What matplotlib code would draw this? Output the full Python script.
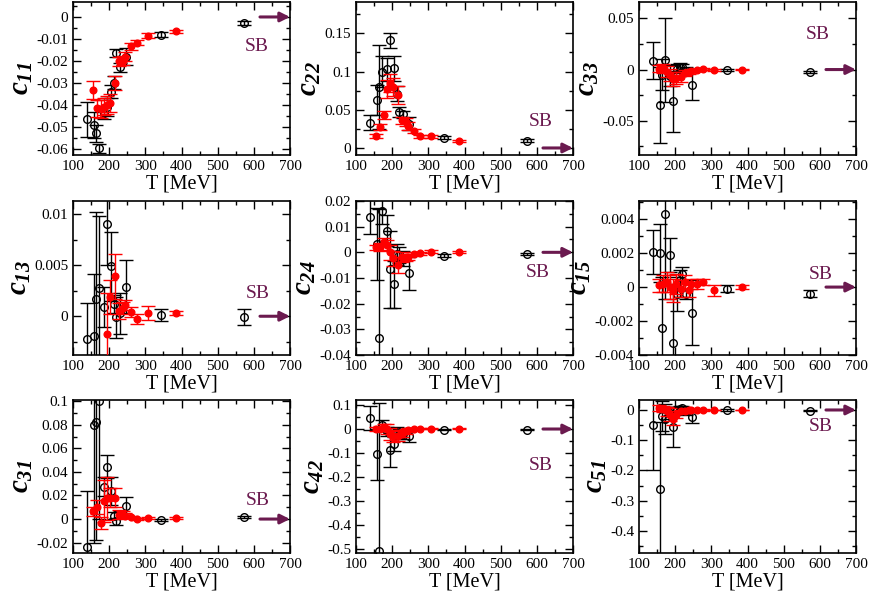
import numpy as np
import matplotlib
matplotlib.use('Agg')
import matplotlib.pyplot as plt
from matplotlib.ticker import MultipleLocator, FuncFormatter

plt.rcParams['font.family'] = ['Liberation Serif', 'DejaVu Serif']
plt.rcParams['mathtext.fontset'] = 'custom'
plt.rcParams['mathtext.it'] = 'Liberation Serif:italic:bold'
plt.rcParams['mathtext.rm'] = 'Liberation Serif:italic:bold'

nan = np.nan

# temperatures [MeV]
black_T = [138, 157, 164, 172, 187, 195, 204, 212, 220, 231, 246, 342, 574]
red_T = [155, 166, 177, 186, 194, 203, 215, 228, 237, 245, 260, 277, 306, 386]

# c11
c11_black = [-0.0464, -0.049, -0.0529, -0.0596, -0.0435, -0.041, -0.034, -0.0298, -0.0164, -0.0228, -0.018, -0.008, -0.0027]
c11_black_err = [0.008, 0.006, 0.004, 0.002, 0.003, 0.004, 0.003, 0.003, 0.002, 0.002, 0.004, 0.001, 0.001]
c11_red = [-0.0331, -0.0415, -0.0419, -0.0407, -0.040, -0.0392, -0.030, -0.0202, -0.0198, -0.018, -0.0134, -0.0116, -0.0085, -0.0065]
c11_red_err = [0.004, 0.004, 0.004, 0.004, 0.004, 0.004, 0.003, 0.002, 0.002, 0.002, 0.0015, 0.0012, 0.001, 0.0006]

# c22
c22_black = [0.0333, 0.0625, 0.080, 0.0997, 0.103, 0.141, 0.104, 0.071, 0.047, 0.044, 0.032, 0.0136, 0.0092]
c22_black_err = [0.01, 0.02, 0.055, 0.02, 0.015, 0.01, 0.016, 0.01, 0.006, 0.005, 0.008, 0.002, 0.002]
c22_red = [0.0157, 0.0275, 0.043, 0.077, 0.085, 0.080, 0.069, 0.036, 0.034, 0.0285, 0.022, 0.0153, 0.0153, 0.0092]
c22_red_err = [0.003, 0.004, 0.005, 0.012, 0.012, 0.012, 0.012, 0.005, 0.005, 0.005, 0.003, 0.002, 0.002, 0.001]

# c33
c33_black = [0.0085, -0.035, -0.005, 0.009, -0.006, -0.031, 0.001, 0.002, 0.0025, -0.001, -0.0147, -0.0007, -0.002]
c33_black_err = [0.018, 0.037, 0.015, 0.041, 0.01, 0.03, 0.004, 0.004, 0.003, 0.003, 0.015, 0.001, 0.001]
c33_red = [0.001, 0.001, -0.002, -0.005, -0.009, -0.008, -0.007, -0.003, -0.002, -0.001, 0.0, 0.0005, -0.0005, 0.0]
c33_red_err = [0.003, 0.004, 0.005, 0.006, 0.007, 0.006, 0.005, 0.003, 0.002, 0.0015, 0.001, 0.001, 0.001, 0.0005]

# c13
c13_black = [-0.0022, -0.0019, 0.0017, 0.0028, 0.0009, 0.009, 0.0049, 0.0012, -0.0001, 0.0003, 0.0029, 0.0001, -0.0001]
c13_black_err = [0.0035, 0.006, 0.0085, 0.007, 0.002, 0.004, 0.0034, 0.0009, 0.002, 0.002, 0.0026, 0.0006, 0.0008]
c13_red = [nan, nan, nan, nan, -0.0017, 0.0019, 0.0039, 0.0005, 0.0008, 0.0011, 0.0004, -0.0003, 0.0003, 0.0003]
c13_red_err = [nan, nan, nan, nan, 0.004, 0.0017, 0.0022, 0.0008, 0.0006, 0.0005, 0.0005, 0.0005, 0.0007, 0.0002]

# c24
c24_black = [0.0138, 0.0031, -0.0332, 0.016, 0.0084, -0.0065, -0.0125, -0.0008, -0.001, -0.0023, -0.0082, -0.0014, -0.0006]
c24_black_err = [0.0066, 0.014, 0.05, 0.005, 0.006, 0.015, 0.009, 0.004, 0.003, 0.003, 0.0065, 0.0006, 0.0005]
c24_red = [0.002, 0.0022, 0.0041, 0.0028, 0.0, -0.0023, -0.0049, -0.0017, -0.002, -0.002, -0.0006, -0.0004, 0.0003, 0.0002]
c24_red_err = [0.001, 0.0015, 0.0015, 0.002, 0.003, 0.003, 0.003, 0.002, 0.0015, 0.001, 0.0008, 0.0005, 0.0005, 0.0003]

# c15
c15_black = [0.00205, 0.002, -0.0024, 0.0043, 0.0019, -0.0033, -0.0004, 0.0002, 0.0008, -0.0004, -0.0015, -0.0001, -0.0004]
c15_black_err = [0.0013, 0.0017, 0.003, 0.005, 0.001, 0.0035, 0.001, 0.0008, 0.0004, 0.0003, 0.0019, 0.0002, 0.0002]
c15_red = [0.0001, 0.0002, 0.0003, 0.0, -0.0002, 0.0002, -0.0001, 0.0003, -0.0002, 0.0002, 0.0002, 0.0003, -0.0002, 0.0]
c15_red_err = [0.0004, 0.0005, 0.0006, 0.0007, 0.0007, 0.0006, 0.0005, 0.0004, 0.0004, 0.0003, 0.0003, 0.0002, 0.0003, 0.0001]

# c31
c31_black = [-0.0236, 0.080, 0.082, 0.100, 0.0276, 0.0445, 0.024, 0.003, -0.002, 0.004, 0.011, -0.001, 0.0015]
c31_black_err = [0.047, 0.1, 0.1, 0.1, 0.008, 0.01, 0.012, 0.003, 0.003, 0.003, 0.008, 0.001, 0.001]
c31_red = [0.0066, 0.010, -0.0034, 0.0153, 0.0176, 0.018, 0.018, 0.0038, 0.0035, 0.003, 0.0015, 0.0, 0.0009, 0.0009]
c31_red_err = [0.004, 0.006, 0.005, 0.018, 0.018, 0.008, 0.008, 0.004, 0.003, 0.002, 0.001, 0.001, 0.0005, 0.0005]

# c42
c42_black = [0.046, -0.106, -0.51, 0.018, -0.01, -0.087, -0.063, -0.01, -0.02, -0.02, -0.028, -0.003, -0.003]
c42_black_err = [0.05, 0.105, 0.62, 0.02, 0.02, 0.07, 0.03, 0.02, 0.02, 0.02, 0.025, 0.003, 0.003]
c42_red = [0.0, 0.002, 0.008, 0.0, -0.02, -0.03, -0.03, -0.02, -0.01, -0.005, 0.0, 0.002, 0.002, 0.002]
c42_red_err = [0.01, 0.012, 0.015, 0.02, 0.025, 0.025, 0.02, 0.015, 0.01, 0.008, 0.005, 0.003, 0.003, 0.002]

# c51
c51_black = [-0.05, -0.26, -0.02, -0.031, -0.01, -0.056, 0.0, 0.003, 0.005, -0.005, -0.022, 0.0, -0.002]
c51_black_err = [0.15, 0.22, 0.05, 0.05, 0.02, 0.065, 0.01, 0.01, 0.008, 0.01, 0.02, 0.002, 0.003]
c51_red = [0.005, 0.003, -0.005, -0.015, -0.03, -0.015, -0.005, -0.002, 0.0, 0.0, 0.0, 0.0, 0.0, 0.0]
c51_red_err = [0.01, 0.01, 0.015, 0.02, 0.02, 0.01, 0.005, 0.004, 0.003, 0.002, 0.002, 0.002, 0.001, 0.001]

labels = ['11', '22', '33', '13', '24', '15', '31', '42', '51']

# position of the "SB" label in each panel
sb_T = [608, 610, 594, 612, 602, 603, 611, 610, 602]
sb_y = [-0.0134, 0.034, 0.0346, 0.0022, -0.0078, 0.00074, 0.0161, -0.152, -0.056]

sb_color = '#6b1a4f'

panels = [
    (c11_black, c11_black_err, c11_red, c11_red_err, (-0.0627, 0.0068), 0.01, 0.005),
    (c22_black, c22_black_err, c22_red, c22_red_err, (-0.0092, 0.191), 0.05, 0.025),
    (c33_black, c33_black_err, c33_red, c33_red_err, (-0.0835, 0.066), 0.05, 0.025),
    (c13_black, c13_black_err, c13_red, c13_red_err, (-0.0038, 0.0113), 0.005, 0.0025),
    (c24_black, c24_black_err, c24_red, c24_red_err, (-0.04, 0.02), 0.01, 0.005),
    (c15_black, c15_black_err, c15_red, c15_red_err, (-0.004, 0.00507), 0.002, 0.001),
    (c31_black, c31_black_err, c31_red, c31_red_err, (-0.0288, 0.101), 0.02, 0.01),
    (c42_black, c42_black_err, c42_red, c42_red_err, (-0.517, 0.121), 0.1, 0.05),
    (c51_black, c51_black_err, c51_red, c51_red_err, (-0.473, 0.033), 0.1, 0.05),
]


def fmt(v, pos):
    if abs(v) < 1e-12:
        return '0'
    return '%g' % v


fig = plt.figure(figsize=(8.72, 6), dpi=100)
W, H = 872.0, 600.0
col_left = [73, 356, 639]
row_top = [2, 201, 400]
row_bottom = [155, 355, 553]

for k, (bv, be, rv, re, ylim, major, minor) in enumerate(panels):
    r, c = k // 3, k % 3
    ax = fig.add_axes([col_left[c] / W, 1 - row_bottom[r] / H,
                       217 / W, (row_bottom[r] - row_top[r]) / H])

    ax.errorbar(black_T, bv, yerr=be, fmt='o', mfc='none', mec='black', ms=5.5, mew=1,
                ecolor='black', elinewidth=1, capsize=5, capthick=1, zorder=2)
    ax.errorbar(red_T, rv, yerr=re, fmt='o', color='red', ms=4.8,
                ecolor='red', elinewidth=1, capsize=5, capthick=1, zorder=3)

    # SB limit
    ax.text(sb_T[k], sb_y[k], 'SB', color=sb_color, fontsize=14, ha='center', va='center')
    ax.annotate('', xy=(700, 0), xytext=(617, 0),
                arrowprops=dict(arrowstyle='-|>', color=sb_color, lw=2.2, mutation_scale=14,
                                shrinkA=0, shrinkB=0))

    ax.set_xlim(100, 700)
    ax.set_ylim(*ylim)
    ax.xaxis.set_major_locator(MultipleLocator(100))
    ax.xaxis.set_minor_locator(MultipleLocator(50))
    ax.yaxis.set_major_locator(MultipleLocator(major))
    ax.yaxis.set_minor_locator(MultipleLocator(minor))
    ax.yaxis.set_major_formatter(FuncFormatter(fmt))
    ax.tick_params(which='both', direction='in', top=True, right=True, labelsize=11)
    ax.tick_params(which='major', length=6, width=1)
    ax.tick_params(which='minor', length=3, width=1)
    for sp in ax.spines.values():
        sp.set_linewidth(1.2)

    ax.set_xlabel('T [MeV]', fontsize=14.5, labelpad=1)
    ax.set_ylabel(r'$\mathit{c}_{\mathit{' + labels[k] + '}}$', fontsize=21, labelpad=1)

fig.savefig('out.png', dpi=100)
